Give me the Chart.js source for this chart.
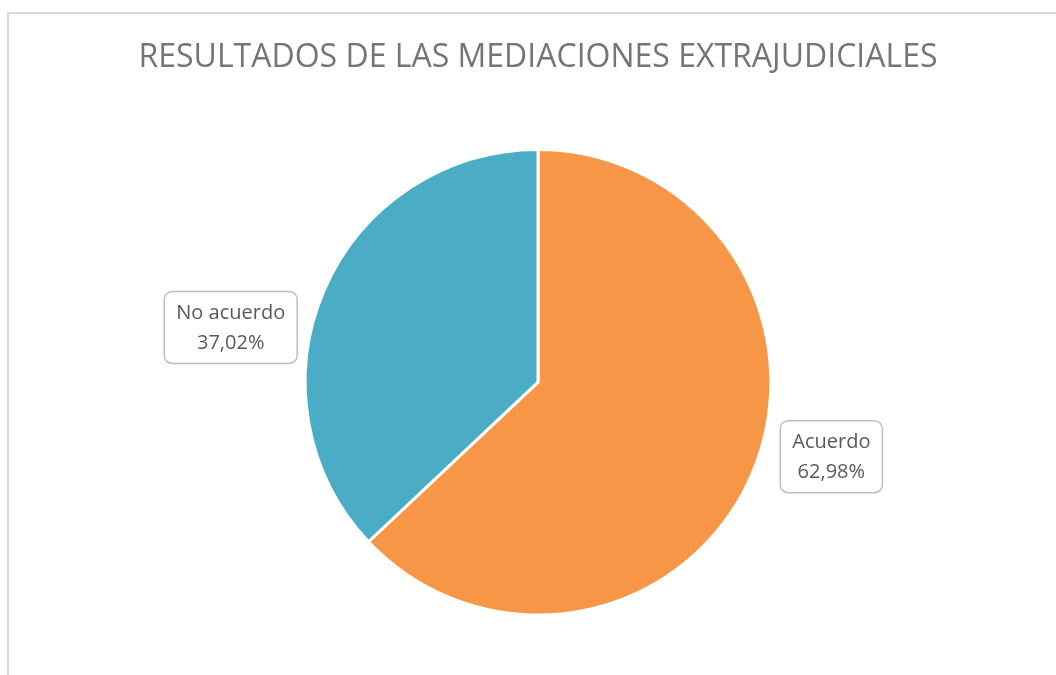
<!DOCTYPE html>
<html>
<head>
<meta charset="utf-8">
<script src="https://cdn.jsdelivr.net/npm/chart.js@4"></script>
<style>
  html, body { margin: 0; padding: 0; background: #fff; overflow: hidden; }
  #wrap { position: relative; width: 1056px; height: 675px; }
  #frame { position: absolute; left: 7px; top: 12px; width: 1100px; height: 700px;
           border-left: 2px solid #d9d9d9; border-top: 2px solid #d9d9d9; pointer-events: none; }
</style>
</head>
<body>
<div id="wrap">
  <canvas id="pieChart" width="1056" height="675"></canvas>
  <div id="frame"></div>
</div>
<script>
// datos del grafico
const categorias = ['Acuerdo', 'No acuerdo'];
const porcentajes = [62.98, 37.02];
const colores = ['#F79646', '#4BACC6'];

// donde va cada etiqueta, en fracciones del radio (relativo al centro)
const etiquetaOffsets = [
  { dx: 1.26, dy: 0.32 },
  { dx: -1.32, dy: -0.235 }
];

const fontEtiqueta = '20px "Open Sans", sans-serif';

// plugin para las etiquetas con caja redondeada
const calloutPlugin = {
  id: 'callouts',
  afterDatasetsDraw(chart) {
    const ctx = chart.ctx;
    const meta = chart.getDatasetMeta(0);
    meta.data.forEach((arc, i) => {
      const r = arc.outerRadius;
      const cx = arc.x + etiquetaOffsets[i].dx * r;
      const cy = arc.y + etiquetaOffsets[i].dy * r;
      const line1 = categorias[i];
      const line2 = porcentajes[i].toFixed(2).replace('.', ',') + '%';
      ctx.save();
      ctx.font = fontEtiqueta;
      const w = Math.max(ctx.measureText(line1).width, ctx.measureText(line2).width) + 24;
      const h = 72;
      ctx.beginPath();
      ctx.roundRect(cx - w / 2, cy - h / 2, w, h, 8);
      ctx.fillStyle = '#fff';
      ctx.fill();
      ctx.lineWidth = 1.5;
      ctx.strokeStyle = '#bfbfbf';
      ctx.stroke();
      ctx.fillStyle = '#595959';
      ctx.textAlign = 'center';
      ctx.textBaseline = 'middle';
      ctx.fillText(line1, cx, cy - 14);
      ctx.fillText(line2, cx, cy + 16);
      ctx.restore();
    });
  }
};

const pieChart = new Chart(document.getElementById('pieChart').getContext('2d'), {
  type: 'pie',
  data: {
    labels: categorias,
    datasets: [{
      data: porcentajes,
      backgroundColor: colores,
      borderColor: '#ffffff',
      borderWidth: 3
    }]
  },
  options: {
    responsive: false,
    animation: false,
    layout: { padding: { left: 20, right: 0, top: 0, bottom: 58.5 } },
    plugins: {
      legend: { display: false },
      tooltip: { enabled: false },
      title: {
        display: true,
        text: 'RESULTADOS DE LAS MEDIACIONES EXTRAJUDICIALES',
        color: '#757575',
        font: { family: '"Open Sans", sans-serif', size: 32, weight: 'normal' },
        padding: { top: 39, bottom: 70.5 }
      }
    }
  },
  plugins: [calloutPlugin]
});
</script>
</body>
</html>
